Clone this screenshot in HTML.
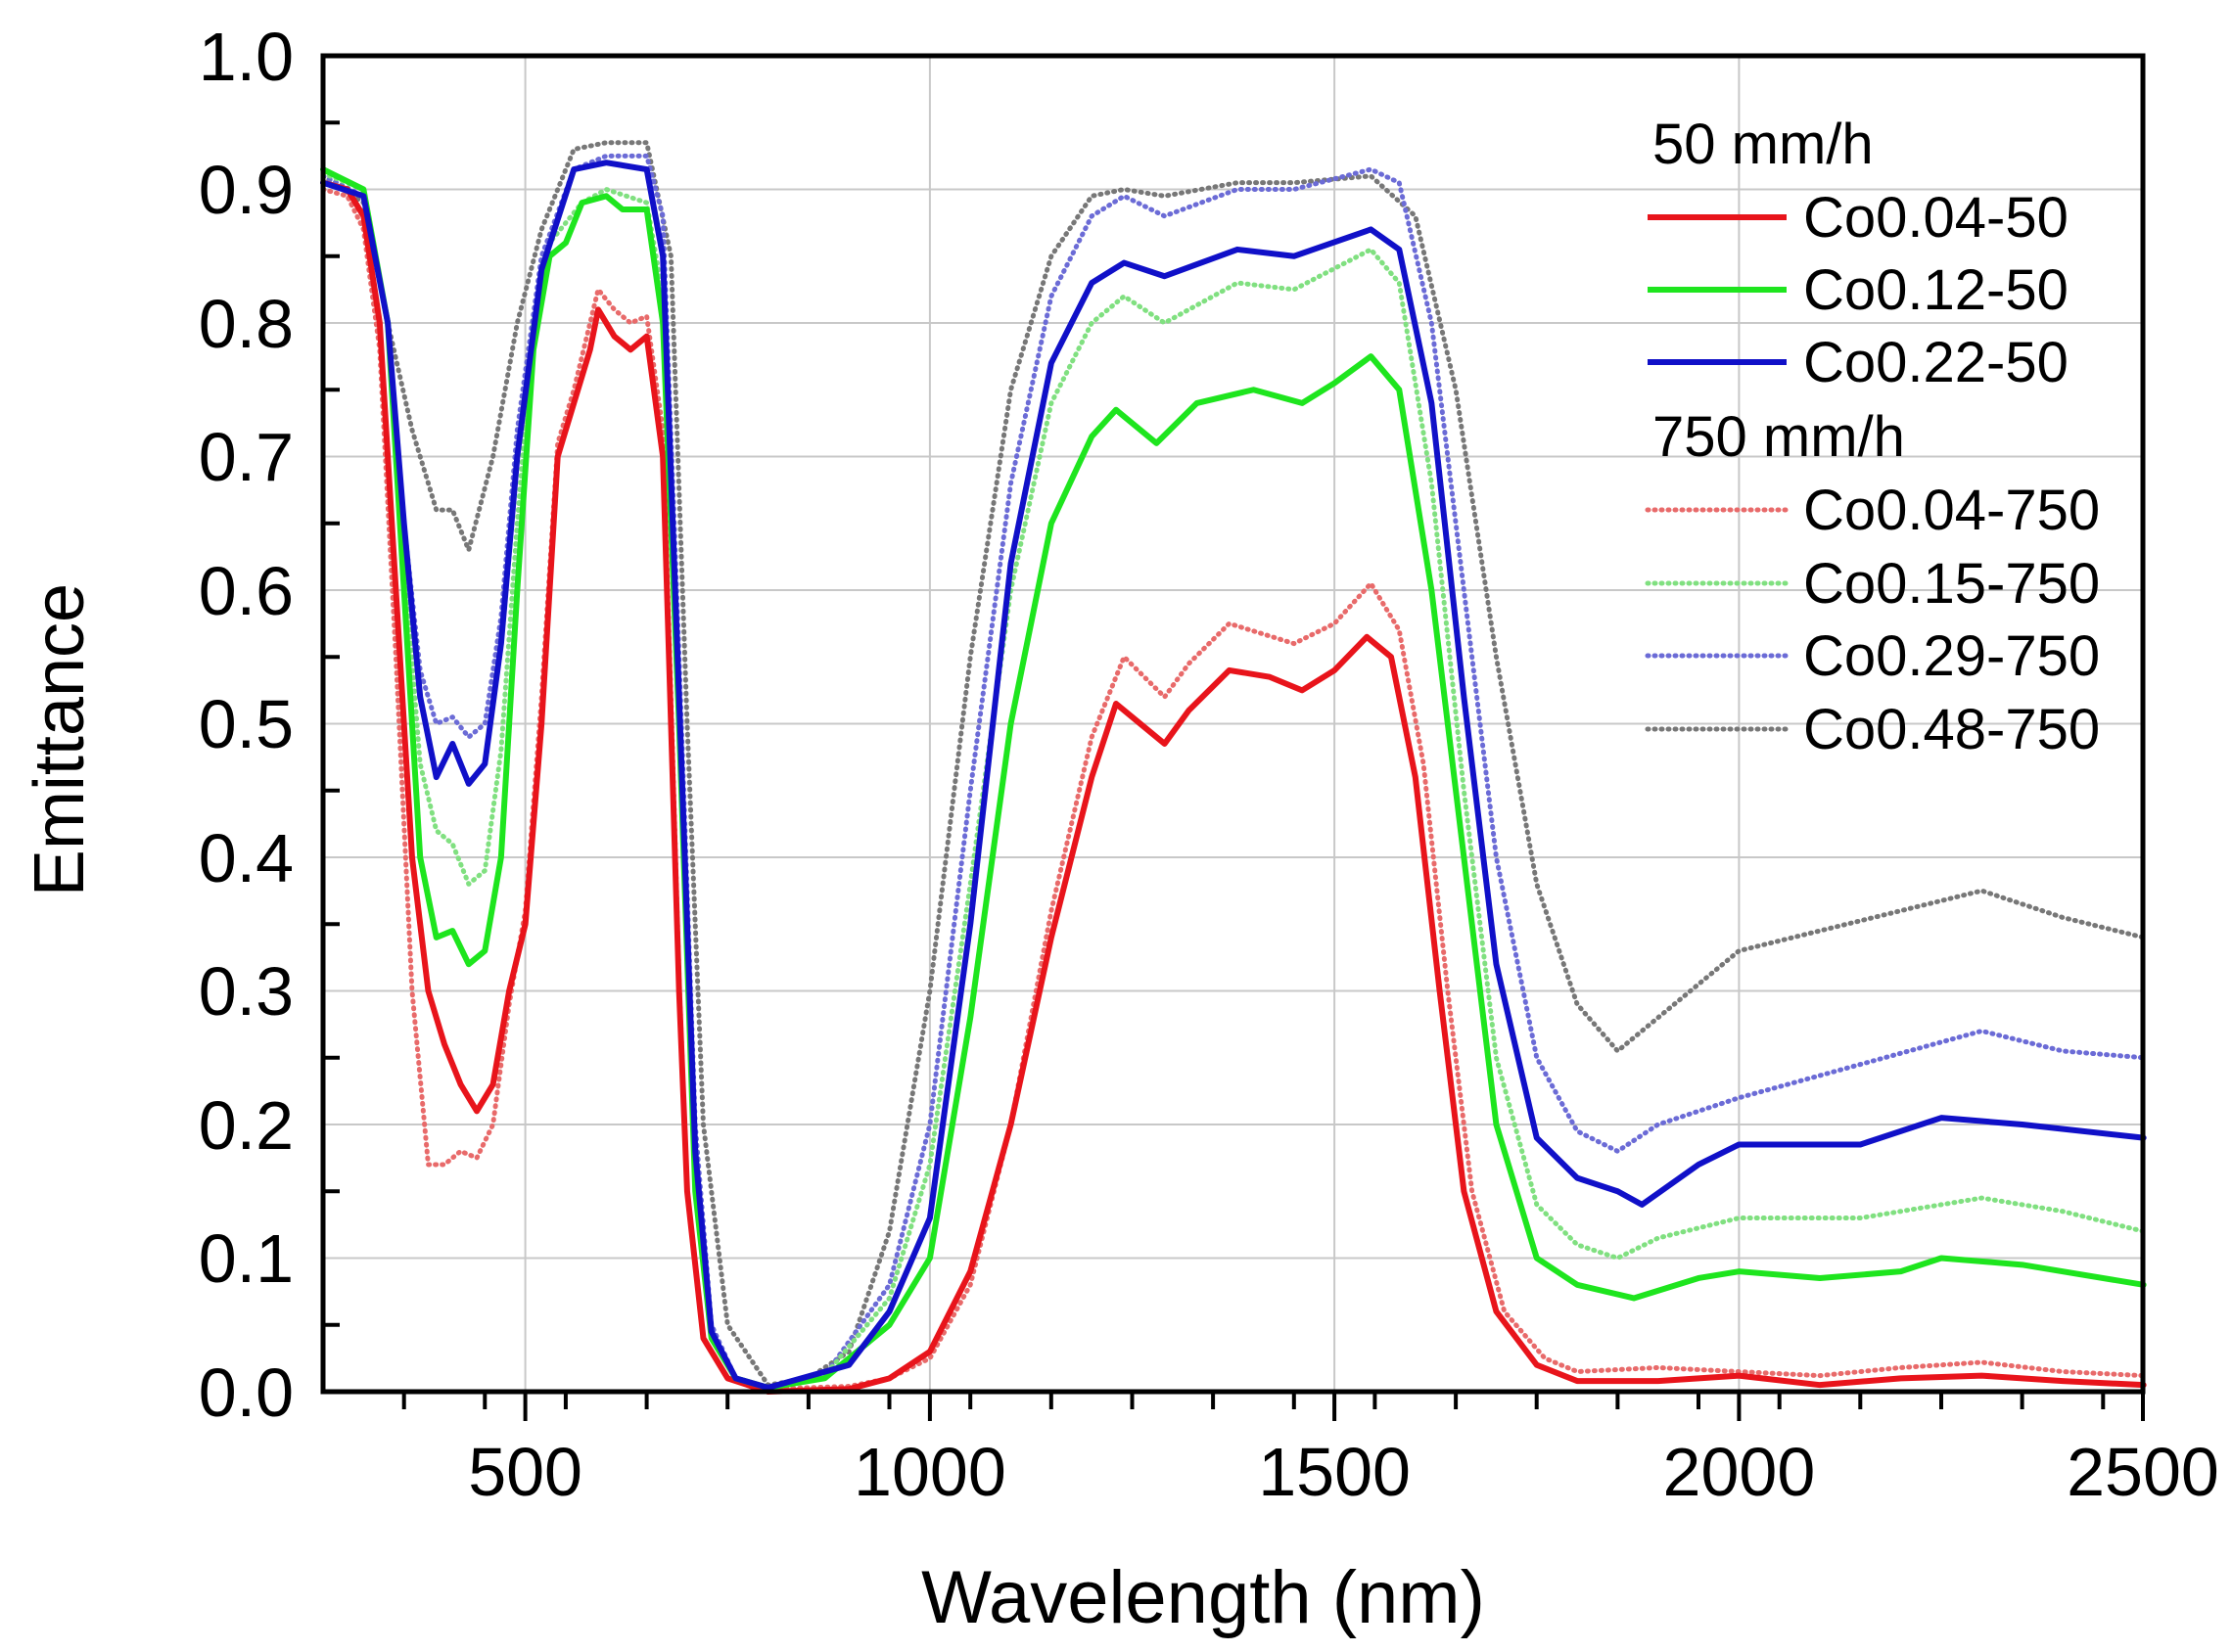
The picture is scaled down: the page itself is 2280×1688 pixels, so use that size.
<!DOCTYPE html>
<html><head><meta charset="utf-8"><style>html,body{margin:0;padding:0;background:#fff}svg{display:block}</style></head><body>
<svg width="2280" height="1688" viewBox="0 0 2280 1688" xmlns="http://www.w3.org/2000/svg" font-family="Liberation Sans, Arial, sans-serif">
<rect width="2280" height="1688" fill="#fff"/>
<g stroke="#c8c8c8" stroke-width="2">
<line x1="536.6" y1="57" x2="536.6" y2="1422"/><line x1="949.9" y1="57" x2="949.9" y2="1422"/><line x1="1363.1" y1="57" x2="1363.1" y2="1422"/><line x1="1776.4" y1="57" x2="1776.4" y2="1422"/>
<line x1="330" y1="1285.5" x2="2189" y2="1285.5"/><line x1="330" y1="1149" x2="2189" y2="1149"/><line x1="330" y1="1012.5" x2="2189" y2="1012.5"/><line x1="330" y1="876" x2="2189" y2="876"/><line x1="330" y1="739.5" x2="2189" y2="739.5"/><line x1="330" y1="603" x2="2189" y2="603"/><line x1="330" y1="466.5" x2="2189" y2="466.5"/><line x1="330" y1="330" x2="2189" y2="330"/><line x1="330" y1="193.5" x2="2189" y2="193.5"/>
</g>
<g transform="matrix(0.8265 0 0 -1.365 123.4 1422)" fill="none" stroke-linejoin="round" stroke-linecap="round">
<polyline vector-effect="non-scaling-stroke" stroke="#777" stroke-width="5" stroke-dasharray="1 6" points="250,910 300,890 330,800 360,720 390,660 410,660 430,630 460,700 490,800 520,870 560,930 600,935 650,935 680,850 700,500 720,200 750,50 800,5 850,10 900,30 950,120 1000,300 1050,550 1100,750 1150,850 1200,895 1240,900 1290,895 1380,905 1450,905 1545,910 1600,880 1650,750 1700,550 1750,380 1800,290 1850,255 1900,280 2000,330 2100,345 2200,360 2300,375 2400,355 2500,340"/>
<polyline vector-effect="non-scaling-stroke" stroke="#6b6bd6" stroke-width="5" stroke-dasharray="1 6" points="250,910 300,895 330,800 350,650 370,540 390,500 410,505 430,490 450,500 470,580 490,720 520,850 560,915 600,925 650,925 670,880 690,550 710,200 730,50 760,10 800,3 870,12 950,80 1000,200 1050,450 1100,680 1150,820 1200,880 1240,895 1290,880 1380,900 1450,900 1545,915 1580,905 1620,800 1660,600 1700,400 1750,250 1800,195 1850,180 1900,200 2000,220 2150,245 2300,270 2400,255 2500,250"/>
<polyline vector-effect="non-scaling-stroke" stroke="#80e080" stroke-width="5" stroke-dasharray="1 6" points="250,912 300,900 330,800 350,620 370,470 390,420 410,410 430,380 450,390 470,480 490,650 510,800 530,860 570,890 600,900 650,890 670,820 690,520 710,170 730,45 760,10 800,3 870,12 950,70 1000,170 1050,380 1100,600 1150,740 1200,800 1240,820 1290,800 1380,830 1450,825 1545,855 1580,830 1620,680 1660,450 1700,250 1750,140 1800,110 1850,100 1900,115 2000,130 2150,130 2300,145 2400,135 2500,120"/>
<polyline vector-effect="non-scaling-stroke" stroke="#e86a6a" stroke-width="5" stroke-dasharray="1 6" points="250,900 280,895 300,870 320,780 340,550 360,300 380,170 400,170 420,180 440,175 460,200 480,290 500,360 520,520 540,710 560,750 580,800 590,825 610,810 630,800 650,805 670,720 680,520 690,310 700,150 720,40 750,10 800,2 900,4 950,10 1000,25 1050,80 1100,200 1150,360 1200,490 1240,550 1290,520 1320,545 1370,575 1450,560 1500,575 1545,605 1580,570 1610,470 1640,300 1670,150 1710,60 1760,25 1800,15 1900,18 2000,15 2100,12 2200,18 2300,22 2400,15 2500,12"/>
<polyline vector-effect="non-scaling-stroke" stroke="#e8141b" stroke-width="6" points="250,905 280,900 300,880 320,800 340,600 360,400 380,300 400,260 420,230 440,210 460,230 480,300 500,350 520,500 540,700 560,740 580,780 590,810 610,790 630,780 650,790 670,700 680,500 690,300 700,150 720,40 750,10 800,0 900,2 950,10 1000,30 1050,90 1100,200 1150,340 1200,460 1230,515 1260,500 1290,485 1320,510 1370,540 1420,535 1460,525 1500,540 1540,565 1570,550 1600,460 1630,300 1660,150 1700,60 1750,20 1800,8 1900,8 2000,12 2100,5 2200,10 2300,12 2400,8 2500,5"/>
<polyline vector-effect="non-scaling-stroke" stroke="#1ee51e" stroke-width="6" points="250,915 300,900 330,800 350,600 370,400 390,340 410,345 430,320 450,330 470,400 490,600 510,780 530,850 550,860 570,890 600,895 620,885 650,885 670,800 690,500 710,150 730,40 760,10 800,3 870,10 950,50 1000,100 1050,280 1100,500 1150,650 1200,715 1230,735 1280,710 1330,740 1400,750 1460,740 1500,755 1545,775 1580,750 1620,600 1660,400 1700,200 1750,100 1800,80 1870,70 1950,85 2000,90 2100,85 2200,90 2250,100 2350,95 2500,80"/>
<polyline vector-effect="non-scaling-stroke" stroke="#1010c8" stroke-width="6" points="250,905 300,895 330,800 350,650 370,520 390,460 410,485 430,455 450,470 470,560 490,700 520,840 560,915 600,920 650,915 670,850 690,520 710,180 730,45 760,10 800,3 900,20 950,60 1000,130 1050,350 1100,620 1150,770 1200,830 1240,845 1290,835 1380,855 1450,850 1545,870 1580,855 1620,740 1660,520 1700,320 1750,190 1800,160 1850,150 1880,140 1950,170 2000,185 2150,185 2250,205 2350,200 2500,190"/>
</g>
<g stroke="#000" stroke-width="5" fill="none">
<rect x="330" y="57" width="1859" height="1365"/>
</g>
<g stroke="#000" stroke-width="4">
<line x1="412.7" y1="1422" x2="412.7" y2="1440"/><line x1="495.3" y1="1422" x2="495.3" y2="1440"/><line x1="536.6" y1="1422" x2="536.6" y2="1452"/><line x1="577.9" y1="1422" x2="577.9" y2="1440"/><line x1="660.6" y1="1422" x2="660.6" y2="1440"/><line x1="743.2" y1="1422" x2="743.2" y2="1440"/><line x1="825.9" y1="1422" x2="825.9" y2="1440"/><line x1="908.5" y1="1422" x2="908.5" y2="1440"/><line x1="949.9" y1="1422" x2="949.9" y2="1452"/><line x1="991.2" y1="1422" x2="991.2" y2="1440"/><line x1="1073.8" y1="1422" x2="1073.8" y2="1440"/><line x1="1156.5" y1="1422" x2="1156.5" y2="1440"/><line x1="1239.1" y1="1422" x2="1239.1" y2="1440"/><line x1="1321.8" y1="1422" x2="1321.8" y2="1440"/><line x1="1363.1" y1="1422" x2="1363.1" y2="1452"/><line x1="1404.4" y1="1422" x2="1404.4" y2="1440"/><line x1="1487.1" y1="1422" x2="1487.1" y2="1440"/><line x1="1569.7" y1="1422" x2="1569.7" y2="1440"/><line x1="1652.4" y1="1422" x2="1652.4" y2="1440"/><line x1="1735" y1="1422" x2="1735" y2="1440"/><line x1="1776.4" y1="1422" x2="1776.4" y2="1452"/><line x1="1817.7" y1="1422" x2="1817.7" y2="1440"/><line x1="1900.3" y1="1422" x2="1900.3" y2="1440"/><line x1="1983" y1="1422" x2="1983" y2="1440"/><line x1="2065.6" y1="1422" x2="2065.6" y2="1440"/><line x1="2148.3" y1="1422" x2="2148.3" y2="1440"/><line x1="2189" y1="1422" x2="2189" y2="1452"/>
<line x1="330" y1="1353.8" x2="347" y2="1353.8"/><line x1="330" y1="1217.3" x2="347" y2="1217.3"/><line x1="330" y1="1080.8" x2="347" y2="1080.8"/><line x1="330" y1="944.3" x2="347" y2="944.3"/><line x1="330" y1="807.8" x2="347" y2="807.8"/><line x1="330" y1="671.3" x2="347" y2="671.3"/><line x1="330" y1="534.8" x2="347" y2="534.8"/><line x1="330" y1="398.3" x2="347" y2="398.3"/><line x1="330" y1="261.8" x2="347" y2="261.8"/><line x1="330" y1="125.3" x2="347" y2="125.3"/>
</g>
<g font-size="70" fill="#000" text-anchor="end">
<text x="300" y="1447">0.0</text><text x="300" y="1310">0.1</text><text x="300" y="1174">0.2</text><text x="300" y="1037">0.3</text><text x="300" y="901">0.4</text><text x="300" y="764">0.5</text><text x="300" y="628">0.6</text><text x="300" y="491">0.7</text><text x="300" y="355">0.8</text><text x="300" y="218">0.9</text><text x="300" y="82">1.0</text>
</g>
<g font-size="70" fill="#000" text-anchor="middle">
<text x="536.6" y="1528">500</text><text x="949.9" y="1528">1000</text><text x="1363.1" y="1528">1500</text><text x="1776.4" y="1528">2000</text><text x="2189" y="1528">2500</text>
<text x="1229" y="1658" font-size="76">Wavelength (nm)</text>
<text transform="translate(85,756) rotate(-90)" font-size="72">Emittance</text>
</g>
<g font-size="58" fill="#000">
<text x="1688" y="167">50 mm/h</text>
<line x1="1683" y1="222" x2="1825" y2="222" stroke="#e8141b" stroke-width="6"/><text x="1842" y="242">Co0.04-50</text>
<line x1="1683" y1="296" x2="1825" y2="296" stroke="#1ee51e" stroke-width="6"/><text x="1842" y="316">Co0.12-50</text>
<line x1="1683" y1="370" x2="1825" y2="370" stroke="#1010c8" stroke-width="6"/><text x="1842" y="390">Co0.22-50</text>
<text x="1688" y="466">750 mm/h</text>
<g stroke-width="5" stroke-dasharray="1 6" stroke-linecap="round">
<line x1="1683" y1="521" x2="1825" y2="521" stroke="#e86a6a"/>
<line x1="1683" y1="596" x2="1825" y2="596" stroke="#80e080"/>
<line x1="1683" y1="670" x2="1825" y2="670" stroke="#6b6bd6"/>
<line x1="1683" y1="745" x2="1825" y2="745" stroke="#777"/>
</g>
<text x="1842" y="541">Co0.04-750</text>
<text x="1842" y="616">Co0.15-750</text>
<text x="1842" y="690">Co0.29-750</text>
<text x="1842" y="765">Co0.48-750</text>
</g>
</svg>
</body></html>
